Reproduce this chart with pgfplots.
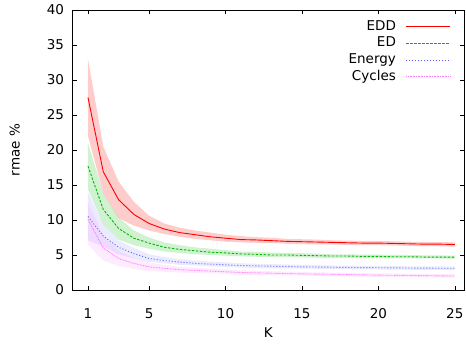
\documentclass[border=0pt]{standalone}
\usepackage{fontspec}
\setmainfont{DejaVu Sans}
\usepackage{pgfplots}
\usepackage{pgfplotstable}
\pgfplotsset{compat=1.18}
\usepgfplotslibrary{fillbetween}
\newcommand\cf{\fontsize{13.5}{16}\selectfont}

\definecolor{cEDD}{HTML}{FF0000}
\definecolor{cED}{HTML}{00B800}
\definecolor{cEn}{HTML}{5A5AFF}
\definecolor{cCy}{HTML}{FF7AFF}

\pgfplotstableread{
x m lo hi
1 27.5 22.0 33.0
2 16.9 13.8 20.5
3 12.9 10.3 15.5
4 10.8 9.2 12.6
5 9.5 8.5 10.6
6 8.7 8.0 9.5
7 8.2 7.6 8.9
8 7.9 7.3 8.5
9 7.6 7.1 8.2
10 7.4 6.9 7.9
11 7.2 6.8 7.7
12 7.15 6.75 7.55
13 7.05 6.7 7.45
14 6.95 6.6 7.3
15 6.9 6.55 7.25
16 6.85 6.5 7.2
17 6.8 6.5 7.1
18 6.75 6.45 7.05
19 6.7 6.4 7.0
20 6.7 6.4 7.0
21 6.65 6.35 6.95
22 6.6 6.3 6.9
23 6.55 6.25 6.85
24 6.55 6.25 6.85
25 6.5 6.2 6.8
}\tEDD

\pgfplotstableread{
x m lo hi
1 17.7 14.4 21.0
2 11.5 9.3 13.8
3 8.8 7.2 10.4
4 7.4 6.4 8.5
5 6.7 5.9 7.5
6 6.1 5.5 6.8
7 5.8 5.3 6.4
8 5.6 5.1 6.1
9 5.4 5.0 5.9
10 5.3 4.9 5.7
11 5.15 4.8 5.5
12 5.1 4.75 5.45
13 5.0 4.7 5.35
14 5.0 4.7 5.3
15 4.95 4.65 5.25
16 4.9 4.6 5.2
17 4.85 4.6 5.1
18 4.85 4.6 5.1
19 4.8 4.55 5.05
20 4.8 4.55 5.05
21 4.75 4.5 5.0
22 4.75 4.5 5.0
23 4.7 4.5 4.95
24 4.7 4.5 4.95
25 4.7 4.45 4.9
}\tED

\pgfplotstableread{
x m lo hi
1 10.5 7.1 14.0
2 7.7 6.2 9.3
3 6.1 5.1 7.1
4 5.2 4.5 6.0
5 4.5 4.0 5.1
6 4.2 3.8 4.7
7 4.0 3.6 4.4
8 3.8 3.5 4.2
9 3.7 3.4 4.05
10 3.6 3.3 3.95
11 3.5 3.2 3.8
12 3.45 3.15 3.75
13 3.4 3.1 3.7
14 3.35 3.1 3.65
15 3.3 3.05 3.6
16 3.28 3.03 3.55
17 3.25 3.0 3.5
18 3.22 2.98 3.47
19 3.2 2.95 3.45
20 3.18 2.93 3.43
21 3.16 2.91 3.41
22 3.14 2.89 3.39
23 3.12 2.87 3.37
24 3.11 2.86 3.36
25 3.1 2.85 3.35
}\tEn

\pgfplotstableread{
x m lo hi
1 10.1 6.5 12.5
2 6.0 4.2 7.8
3 4.5 3.4 5.6
4 3.8 3.0 4.6
5 3.3 2.7 3.9
6 3.1 2.6 3.6
7 2.9 2.5 3.3
8 2.8 2.4 3.2
9 2.7 2.35 3.05
10 2.6 2.3 2.95
11 2.5 2.2 2.8
12 2.45 2.15 2.75
13 2.4 2.12 2.68
14 2.35 2.1 2.62
15 2.3 2.05 2.55
16 2.27 2.02 2.52
17 2.24 1.99 2.49
18 2.2 1.95 2.45
19 2.16 1.91 2.41
20 2.12 1.87 2.37
21 2.1 1.85 2.35
22 2.07 1.82 2.32
23 2.05 1.8 2.3
24 2.02 1.77 2.27
25 2.0 1.75 2.25
}\tCy

\begin{document}
\cf
\begin{tikzpicture}
\begin{axis}[
  at={(0,0)}, anchor=south west,
  scale only axis, width=391.3pt, height=280pt,
  xmin=0, xmax=25.6, ymin=0, ymax=40,
  xtick={1,5,10,15,20,25},
  ytick={0,5,10,15,20,25,30,35,40},
  axis line style={line width=0.8pt},
  major tick style={line width=0.6pt, black},
  major tick length=4pt,
  tick align=inside,
  /pgf/number format/assume math mode=true,
  tick label style={font=\cf},
  label style={font=\cf},
  xticklabel style={yshift=-13.5pt},
  yticklabel style={xshift=-4pt},
  xlabel={K}, ylabel={rmae \%},
  xlabel style={at={(axis description cs:0.5,0)}, anchor=center, yshift=-43pt},
  ylabel style={at={(axis description cs:0,0.5)}, anchor=center, yshift=58pt},
  legend plot pos=right,
  legend cell align=right,
  legend style={at={(axis description cs:1,1)}, anchor=north east,
    xshift=-13pt, yshift=-9pt, draw=none, fill=none, inner sep=0pt,
    row sep=1.7pt, font=\cf,
    nodes={inner sep=1pt, text height=10pt, text depth=3pt}},
  legend image code/.code={\draw[#1] (0pt,0pt) -- (44pt,0pt);},
]
% bands
\addplot[name path=eddlo, draw=none, forget plot] table[x=x,y=lo]{\tEDD};
\addplot[name path=eddhi, draw=none, forget plot] table[x=x,y=hi]{\tEDD};
\addplot[fill=cEDD, fill opacity=0.2, draw=none, forget plot] fill between[of=eddlo and eddhi];
\addplot[name path=edlo, draw=none, forget plot] table[x=x,y=lo]{\tED};
\addplot[name path=edhi, draw=none, forget plot] table[x=x,y=hi]{\tED};
\addplot[fill=cED, fill opacity=0.18, draw=none, forget plot] fill between[of=edlo and edhi];
\addplot[name path=enlo, draw=none, forget plot] table[x=x,y=lo]{\tEn};
\addplot[name path=enhi, draw=none, forget plot] table[x=x,y=hi]{\tEn};
\addplot[fill=cEn, fill opacity=0.12, draw=none, forget plot] fill between[of=enlo and enhi];
\addplot[name path=cylo, draw=none, forget plot] table[x=x,y=lo]{\tCy};
\addplot[name path=cyhi, draw=none, forget plot] table[x=x,y=hi]{\tCy};
\addplot[fill=cCy, fill opacity=0.15, draw=none, forget plot] fill between[of=cylo and cyhi];
% lines
\addplot[cEDD, line width=0.9pt, mark=none] table[x=x,y=m]{\tEDD};
\addlegendentry{EDD\hspace*{9pt}}
\addplot[cED, line width=0.9pt, mark=none, dash pattern=on 2.5pt off 1.5pt] table[x=x,y=m]{\tED};
\addlegendentry{ED\hspace*{9pt}}
\addplot[cEn, line width=0.9pt, mark=none, dash pattern=on 1pt off 2pt] table[x=x,y=m]{\tEn};
\addlegendentry{Energy\hspace*{9pt}}
\addplot[cCy, line width=0.9pt, mark=none, dash pattern=on 0.8pt off 0.8pt] table[x=x,y=m]{\tCy};
\addlegendentry{Cycles\hspace*{9pt}}
\end{axis}
\pgfresetboundingbox
\useasboundingbox (-72.7pt,-57pt) rectangle (393.3pt,290pt);
\end{tikzpicture}
\end{document}
